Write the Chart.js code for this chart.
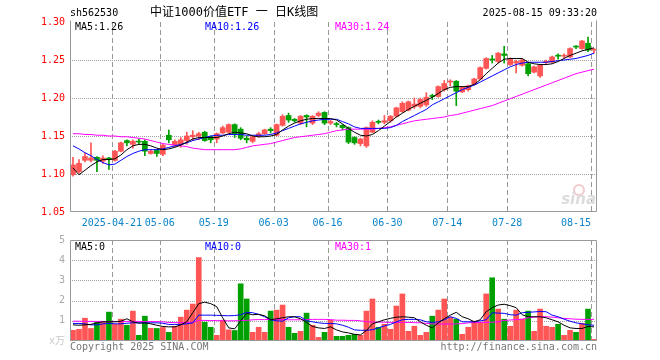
<!DOCTYPE html>
<html>
<head>
<meta charset="utf-8">
<script src="https://cdn.jsdelivr.net/npm/chart.js@4"></script>
<style>
  body { margin: 0; background: #fff; }
  #wrap { position: relative; width: 660px; height: 360px; }
  canvas { position: absolute; left: 0; top: 0; }
</style>
</head>
<body>
<div id="wrap">
  <canvas id="kline" width="660" height="360"></canvas>
  <canvas id="volume" width="660" height="360"></canvas>
</div>
<script>
// trading days 2025-04-10 .. 2025-08-15
const dates = [
  '04-10','04-11','04-14','04-15','04-16','04-17','04-18','04-21','04-22','04-23','04-24','04-25','04-28','04-29','04-30',
  '05-06','05-07','05-08','05-09','05-12','05-13','05-14','05-15','05-16','05-19','05-20','05-21','05-22','05-23','05-26','05-27','05-28','05-29','05-30',
  '06-03','06-04','06-05','06-06','06-09','06-10','06-11','06-12','06-13','06-16','06-17','06-18','06-19','06-20','06-23','06-24','06-25','06-26','06-27','06-30',
  '07-01','07-02','07-03','07-04','07-07','07-08','07-09','07-10','07-11','07-14','07-15','07-16','07-17','07-18','07-21','07-22','07-23','07-24','07-25','07-28','07-29','07-30','07-31',
  '08-01','08-04','08-05','08-06','08-07','08-08','08-11','08-12','08-13','08-14','08-15'
];
const tickDates = ['04-21','05-06','05-19','06-03','06-16','06-30','07-14','07-28','08-15'];
const tickLabels = ['2025-04-21','05-06','05-19','06-03','06-16','06-30','07-14','07-28','08-15'];
const priceTicks = [1.05, 1.10, 1.15, 1.20, 1.25, 1.30];
const volumeTicks = [0, 1, 2, 3, 4, 5];

const opens = [
  1.099,1.103,1.118,1.118,1.122,1.117,1.121,1.118,1.130,1.144, 1.139,1.143,1.143,1.127,1.131,1.126,1.151,1.138,1.139,1.144,
  1.149,1.150,1.155,1.149,1.146,1.154,1.155,1.165,1.159,1.147, 1.143,1.150,1.153,1.159,1.151,1.164,1.177,1.172,1.167,1.177,
  1.167,1.177,1.181,1.167,1.166,1.164,1.161,1.148,1.140,1.137, 1.155,1.169,1.168,1.170,1.176,1.182,1.184,1.189,1.189,1.191,
  1.203,1.202,1.211,1.221,1.222,1.208,1.211,1.218,1.225,1.239, 1.251,1.248,1.258,1.244,1.246,1.243,1.245,1.234,1.229,1.247,
  1.247,1.256,1.255,1.254,1.268,1.265,1.272,1.263
];
const highs = [
  1.122,1.119,1.128,1.141,1.123,1.124,1.122,1.131,1.142,1.145, 1.145,1.146,1.145,1.132,1.132,1.139,1.158,1.145,1.148,1.155,
  1.157,1.155,1.156,1.150,1.154,1.163,1.166,1.166,1.161,1.150, 1.150,1.155,1.159,1.161,1.166,1.178,1.180,1.173,1.177,1.178,
  1.177,1.182,1.182,1.171,1.168,1.165,1.162,1.149,1.147,1.162, 1.170,1.171,1.177,1.177,1.188,1.195,1.196,1.200,1.200,1.207,
  1.205,1.216,1.223,1.224,1.223,1.215,1.217,1.226,1.241,1.253, 1.256,1.260,1.268,1.253,1.250,1.251,1.246,1.242,1.244,1.250,
  1.255,1.258,1.258,1.266,1.269,1.276,1.280,1.265
];
const lows = [
  1.097,1.101,1.116,1.116,1.103,1.114,1.106,1.117,1.129,1.137, 1.134,1.139,1.124,1.126,1.123,1.124,1.141,1.136,1.135,1.139,
  1.144,1.145,1.143,1.141,1.141,1.153,1.154,1.148,1.145,1.141, 1.141,1.148,1.152,1.154,1.150,1.163,1.168,1.168,1.165,1.162,
  1.165,1.175,1.165,1.165,1.162,1.158,1.140,1.139,1.137,1.135, 1.154,1.166,1.166,1.168,1.175,1.181,1.183,1.186,1.187,1.189,
  1.198,1.201,1.209,1.216,1.190,1.207,1.209,1.217,1.224,1.238, 1.246,1.246,1.246,1.243,1.233,1.242,1.229,1.233,1.227,1.245,
  1.246,1.251,1.252,1.253,1.265,1.264,1.261,1.259
];
const closes = [
  1.112,1.114,1.123,1.121,1.118,1.121,1.119,1.130,1.141,1.141, 1.143,1.142,1.130,1.130,1.127,1.138,1.145,1.143,1.145,1.150,
  1.151,1.153,1.144,1.145,1.153,1.161,1.165,1.153,1.147,1.145, 1.149,1.153,1.158,1.157,1.165,1.176,1.171,1.170,1.176,1.175,
  1.176,1.180,1.167,1.169,1.165,1.161,1.142,1.141,1.146,1.161, 1.168,1.168,1.170,1.176,1.187,1.193,1.195,1.192,1.198,1.201,
  1.202,1.215,1.219,1.222,1.209,1.214,1.216,1.225,1.240,1.252, 1.250,1.259,1.256,1.251,1.248,1.250,1.232,1.241,1.243,1.248,
  1.254,1.255,1.256,1.265,1.267,1.275,1.263,1.264
];

const ma5 = [
  1.108,1.099,1.105,1.111,1.116,1.119,1.119,1.120,1.125,1.132, 1.137,1.139,1.139,1.137,1.134,1.132,1.133,1.135,1.138,1.142,
  1.146,1.148,1.148,1.148,1.148,1.150,1.153,1.155,1.154,1.153, 1.150,1.149,1.149,1.150,1.152,1.158,1.163,1.167,1.170,1.172,
  1.173,1.173,1.173,1.173,1.171,1.166,1.160,1.155,1.151,1.150, 1.152,1.157,1.163,1.169,1.175,1.180,1.185,1.189,1.193,1.197,
  1.201,1.206,1.211,1.214,1.215,1.215,1.215,1.218,1.224,1.232, 1.239,1.246,1.251,1.252,1.252,1.252,1.247,1.245,1.244,1.244,
  1.245,1.248,1.252,1.256,1.259,1.262,1.264,1.266
];
const ma10 = [
  1.137,1.133,1.128,1.124,1.119,1.115,1.112,1.113,1.118,1.123, 1.127,1.130,1.132,1.132,1.132,1.133,1.135,1.137,1.139,1.141,
  1.144,1.146,1.148,1.150,1.151,1.151,1.152,1.152,1.152,1.151, 1.151,1.151,1.151,1.152,1.154,1.157,1.160,1.163,1.166,1.168,
  1.170,1.171,1.172,1.172,1.172,1.169,1.166,1.162,1.160,1.160, 1.160,1.160,1.160,1.161,1.164,1.169,1.173,1.177,1.181,1.185,
  1.191,1.195,1.199,1.203,1.207,1.211,1.214,1.217,1.221,1.225, 1.229,1.233,1.237,1.241,1.244,1.246,1.247,1.247,1.247,1.247,
  1.248,1.249,1.250,1.251,1.252,1.254,1.256,1.259
];
const ma30 = [
  1.153,1.153,1.152,1.152,1.151,1.151,1.150,1.150,1.149,1.149, 1.148,1.147,1.146,1.144,1.142,1.140,1.139,1.138,1.137,1.136,
  1.134,1.133,1.132,1.132,1.132,1.132,1.132,1.132,1.133,1.135, 1.137,1.138,1.139,1.140,1.142,1.144,1.146,1.148,1.149,1.150,
  1.151,1.152,1.153,1.155,1.157,1.158,1.159,1.159,1.159,1.159, 1.159,1.160,1.161,1.162,1.164,1.166,1.168,1.170,1.171,1.172,
  1.173,1.174,1.175,1.177,1.178,1.180,1.182,1.184,1.186,1.188, 1.190,1.193,1.196,1.199,1.202,1.205,1.208,1.211,1.214,1.217,
  1.220,1.223,1.226,1.229,1.232,1.234,1.236,1.238
];

// volume, in 万
const volumes = [
  0.53,0.58,1.13,0.62,0.92,0.92,1.43,0.83,1.08,0.78, 1.48,0.28,1.23,0.63,0.62,0.67,0.43,0.73,1.18,1.53,
  1.83,4.13,0.93,0.68,0.28,1.03,0.55,0.52,2.83,2.08, 0.43,0.68,0.43,1.48,1.53,1.78,0.68,0.38,0.48,1.38,
  0.78,0.18,0.43,1.03,0.23,0.23,0.28,0.33,0.28,1.48, 2.08,0.68,0.83,0.58,1.73,2.33,0.48,0.73,0.28,0.43,
  1.23,1.53,2.08,1.18,1.08,0.33,0.68,0.98,0.93,2.33, 3.13,1.58,1.08,0.73,1.53,1.08,1.48,0.48,1.58,0.73,
  0.68,0.83,0.28,0.53,0.43,0.88,1.58,0.08
];
const volMa5 = [
  0.80,0.78,0.80,0.82,0.90,0.95,0.95,0.95,0.98,1.10, 0.95,0.88,0.90,0.85,0.78,0.72,0.70,0.70,0.80,0.95,
  1.40,1.85,1.92,1.85,1.70,1.15,0.65,0.60,1.00,1.37, 1.30,1.32,1.25,1.05,1.10,1.15,1.20,1.20,1.10,0.92,
  0.72,0.65,0.62,0.70,0.55,0.45,0.40,0.33,0.30,0.52, 0.85,0.95,1.05,1.12,1.18,1.20,1.18,1.15,0.95,0.78,
  0.65,0.90,1.10,1.28,1.42,1.20,1.10,0.95,1.05,1.45, 1.65,1.78,1.82,1.75,1.65,1.30,1.20,1.20,1.20,1.15,
  1.05,0.95,0.78,0.65,0.62,0.62,0.72,0.70
];
const volMa10 = [
  0.87,0.87,0.85,0.80,0.80,0.85,0.87,0.85,0.85,0.88, 0.90,0.90,0.90,0.90,0.90,0.88,0.82,0.82,0.82,0.85,
  0.90,1.28,1.28,1.28,1.27,1.26,1.25,1.26,1.30,1.42, 1.40,1.32,1.20,1.05,1.00,0.98,1.15,1.20,1.20,1.00,
  0.95,0.90,0.87,0.87,0.85,0.78,0.68,0.55,0.53,0.53, 0.56,0.65,0.75,0.82,0.95,1.05,1.07,1.07,1.05,0.95,
  0.92,0.95,1.05,1.20,1.12,0.95,0.95,0.95,1.00,1.05, 1.40,1.38,1.37,1.30,1.28,1.40,1.42,1.44,1.46,1.45,
  1.28,1.20,1.08,0.98,0.90,0.85,0.80,0.78
];
const volMa30 = [
  0.98,0.98,0.97,0.97,0.97,0.97,0.96,0.96,0.96,0.97, 0.97,0.97,0.96,0.96,0.96,0.95,0.92,0.91,0.91,0.92,
  0.93,1.02,1.02,1.01,1.01,1.00,1.00,1.00,1.01,1.02, 1.05,1.06,1.06,1.07,1.07,1.06,1.05,1.05,1.05,1.06,
  1.07,1.07,1.07,1.06,1.03,1.03,1.02,1.02,1.00,0.95, 0.94,0.93,0.93,0.92,0.92,0.92,0.92,0.91,0.90,0.87,
  0.85,0.84,0.84,0.84,0.85,0.86,0.90,0.91,0.92,0.92, 0.93,0.95,1.02,1.04,1.06,1.08,1.15,1.18,1.20,1.20,
  1.18,1.15,1.12,1.10,1.08,1.07,1.07,1.07
];

const MONO = '"DejaVu Sans Mono", "Liberation Mono", "Noto Sans CJK SC", monospace';
const RED = '#ff5555';
const GREEN = '#00a000';
const GRID = '#a0a0a0';

Chart.defaults.font.family = MONO;
Chart.defaults.font.size = 10;
Chart.defaults.animation = false;

const candleColors = dates.map((d, i) => closes[i] >= opens[i] ? RED : GREEN);

function tickText(index) {
  const k = tickDates.indexOf(dates[index]);
  if (k < 0) return '';
  // last label sits to the left of its grid line
  return k === tickDates.length - 1 ? tickLabels[k] + '     ' : tickLabels[k];
}

// left edge of a category, where the dashed date line goes
function categoryEdge(chart, index) {
  const a = chart.chartArea;
  const left = Number(a.left), right = Number(a.right);
  const step = (right - left) / dates.length;
  let px = NaN;
  const xs = chart.scales && chart.scales.x;
  if (xs && typeof xs.getPixelForValue === 'function') {
    px = Number(xs.getPixelForValue(index)) - step / 2;
  }
  if (!isFinite(px) || px < left - 1 || px > right + 1) {
    px = left + index * step;
  }
  return Math.round(px);
}

// grid, frame, watermark and the free texts of each panel
const decor = {
  id: 'decor',
  beforeDatasetsDraw(chart, args, o) {
    const { ctx, chartArea: a, scales } = chart;
    const ys = scales.y;
    const top = Math.round(Number(a.top)), bottom = Math.round(Number(a.bottom));
    ctx.save();
    ctx.strokeStyle = GRID;
    ctx.lineWidth = 1;
    ctx.setLineDash([1, 1]);
    (o.yGrid || []).forEach(function (v) {
      const py = Math.round(ys.getPixelForValue(v)) + 0.5;
      ctx.beginPath(); ctx.moveTo(a.left, py); ctx.lineTo(a.right, py); ctx.stroke();
    });
    ctx.setLineDash([]);
    ctx.fillStyle = '#999999';
    for (let k = 0; k < tickDates.length; k++) {
      const px = categoryEdge(chart, dates.indexOf(tickDates[k]));
      for (let y = top; y < bottom; y += 8) {
        ctx.fillRect(px, y, 1, Math.min(5, bottom - y));
      }
    }
    if (o.watermark) {
      ctx.strokeStyle = '#f3caca';
      ctx.lineWidth = 2;
      ctx.beginPath();
      ctx.arc(a.right - 18, a.bottom - 22, 5, 0, Math.PI * 2);
      ctx.stroke();
      ctx.fillStyle = '#dcdcdc';
      ctx.font = 'italic bold 15px "DejaVu Sans"';
      ctx.textAlign = 'right';
      ctx.fillText('sina', a.right - 1, a.bottom - 8);
    }
    ctx.restore();
  },
  afterDraw(chart, args, o) {
    const { ctx, chartArea: a } = chart;
    const l = Math.round(a.left) + 0.5, r = Math.round(a.right) - 0.5;
    const t = Math.round(a.top) + 0.5, b = Math.round(a.bottom) - 0.5;
    ctx.save();
    ctx.strokeStyle = '#999';
    ctx.lineWidth = 1;
    ctx.beginPath();
    if (o.top) {
      ctx.rect(l, t, r - l, b - t);
    } else {
      ctx.moveTo(l, t - 2); ctx.lineTo(l, b); ctx.lineTo(r, b); ctx.lineTo(r, t - 2);
    }
    ctx.stroke();
    ctx.textBaseline = 'middle';
    (o.texts || []).forEach(function (s) {
      ctx.font = (s.size || 10) + 'px ' + MONO;
      ctx.fillStyle = s.color || '#000';
      ctx.textAlign = s.align || 'left';
      ctx.fillText(s.text, s.x, s.y);
    });
    ctx.restore();
  }
};

function xScale(showLabels, height) {
  return {
    offset: true,
    grid: { display: false, drawTicks: false },
    border: { display: false },
    ticks: {
      display: showLabels,
      autoSkip: false,
      maxRotation: 0,
      padding: 5,
      labelOffset: -3,
      color: '#0a84c8',
      callback: (v, i) => tickText(i)
    },
    afterFit: s => { s.height = height; }
  };
}

const priceCtx = document.getElementById('kline').getContext('2d');
new Chart(priceCtx, {
  type: 'bar',
  data: {
    labels: dates,
    datasets: [
      { type: 'line', data: ma5, borderColor: '#000', borderWidth: 1, pointRadius: 0, order: 0 },
      { type: 'line', data: ma10, borderColor: '#0000ff', borderWidth: 1, pointRadius: 0, order: 0 },
      { type: 'line', data: ma30, borderColor: '#ff00ff', borderWidth: 1, pointRadius: 0, order: 0 },
      {
        data: dates.map((d, i) => [opens[i], closes[i]]),
        backgroundColor: candleColors, barThickness: 5, minBarLength: 1, grouped: false, order: 1
      },
      {
        data: dates.map((d, i) => [lows[i], highs[i]]),
        backgroundColor: candleColors, barThickness: 1, grouped: false, order: 2
      }
    ]
  },
  options: {
    responsive: false,
    devicePixelRatio: 1,
    layout: { padding: { top: 22, right: 63, left: 0, bottom: 0 } },
    plugins: {
      legend: { display: false },
      tooltip: { enabled: false },
      decor: {
        watermark: true,
        top: false,
        yGrid: priceTicks.slice(1, -1),
        texts: [
          { text: 'sh562530', x: 70, y: 13 },
          { text: '中证1000价值ETF 一 日K线图', x: 150, y: 13, size: 12 },
          { text: '2025-08-15 09:33:20', x: 597, y: 13, align: 'right' },
          { text: 'MA5:1.26', x: 75, y: 27 },
          { text: 'MA10:1.26', x: 205, y: 27, color: '#0000ff' },
          { text: 'MA30:1.24', x: 335, y: 27, color: '#ff00ff' }
        ]
      }
    },
    scales: {
      x: xScale(true, 148),
      y: {
        min: priceTicks[0],
        max: priceTicks[priceTicks.length - 1],
        afterBuildTicks: s => { s.ticks = priceTicks.map(v => ({ value: v })); },
        grid: { display: false, drawTicks: false },
        border: { display: false },
        ticks: { color: '#ff0000', padding: 5, autoSkip: false, callback: v => v.toFixed(2) },
        afterFit: s => { s.width = 70; }
      }
    }
  },
  plugins: [decor]
});

const volumeCtx = document.getElementById('volume').getContext('2d');
new Chart(volumeCtx, {
  type: 'bar',
  data: {
    labels: dates,
    datasets: [
      { type: 'line', data: volMa5, borderColor: '#000', borderWidth: 1, pointRadius: 0, order: 0 },
      { type: 'line', data: volMa10, borderColor: '#0000ff', borderWidth: 1, pointRadius: 0, order: 0 },
      { type: 'line', data: volMa30, borderColor: '#ff00ff', borderWidth: 1, pointRadius: 0, order: 0 },
      { data: volumes, backgroundColor: candleColors, barThickness: 5, order: 1 }
    ]
  },
  options: {
    responsive: false,
    devicePixelRatio: 1,
    layout: { padding: { top: 240, right: 63, left: 0, bottom: 0 } },
    plugins: {
      legend: { display: false },
      tooltip: { enabled: false },
      decor: {
        top: true,
        yGrid: volumeTicks.slice(1, -1),
        texts: [
          { text: 'MA5:0', x: 75, y: 247 },
          { text: 'MA10:0', x: 205, y: 247, color: '#0000ff' },
          { text: 'MA30:1', x: 335, y: 247, color: '#ff00ff' },
          { text: 'Copyright 2025 SINA.COM', x: 70, y: 347, color: '#777' },
          { text: 'http://finance.sina.com.cn', x: 597, y: 347, color: '#777', align: 'right' }
        ]
      }
    },
    scales: {
      x: xScale(false, 19),
      y: {
        min: volumeTicks[0],
        max: volumeTicks[volumeTicks.length - 1],
        afterBuildTicks: s => { s.ticks = volumeTicks.map(v => ({ value: v })); },
        grid: { display: false, drawTicks: false },
        border: { display: false },
        ticks: {
          padding: 5,
          autoSkip: false,
          color: c => c.tick && c.tick.value === 0 ? '#c8c8c8' : '#aaaaaa',
          callback: v => v === 0 ? 'x万' : String(v)
        },
        afterFit: s => { s.width = 70; }
      }
    }
  },
  plugins: [decor]
});
</script>
</body>
</html>
